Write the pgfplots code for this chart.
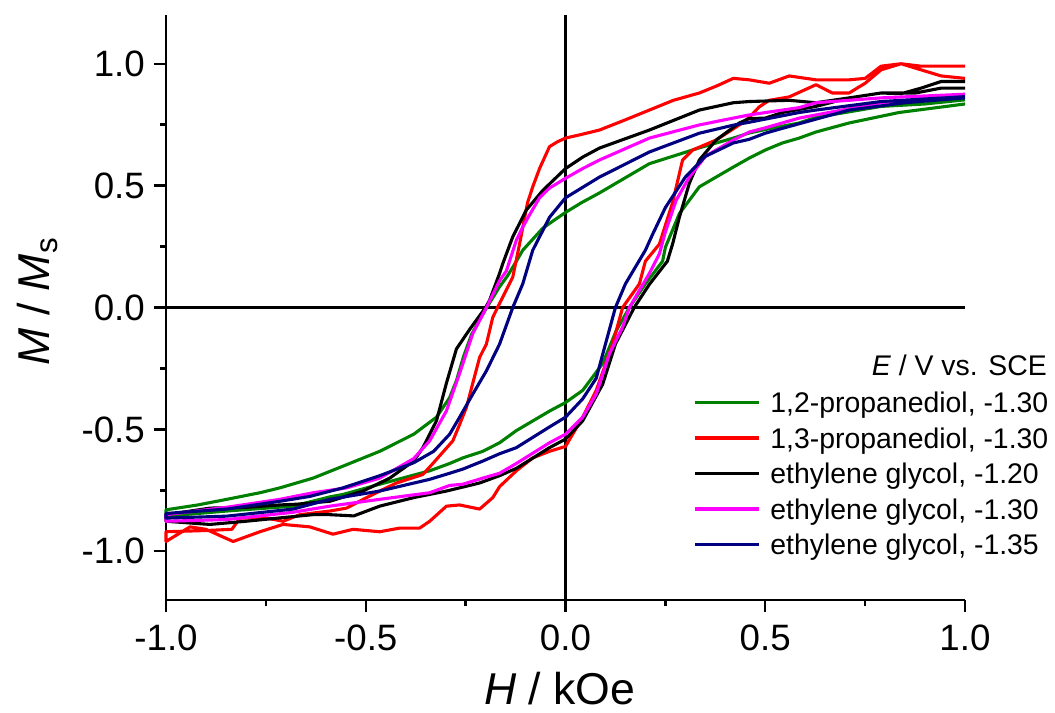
\documentclass[border=0pt]{standalone}
\usepackage{fontspec}
\setmainfont{Liberation Sans}
\usepackage{pgfplots}
\pgfplotsset{compat=1.18}
\definecolor{cgreen}{RGB}{0,128,0}
\definecolor{cred}{RGB}{255,0,0}
\definecolor{cmag}{RGB}{255,0,255}
\definecolor{cblue}{RGB}{0,0,128}
\begin{document}
\begin{tikzpicture}
\path[use as bounding box] (-166bp,-113bp) rectangle (889bp,600bp);
\begin{axis}[
  at={(0,0)}, anchor=south west,
  width=799bp, height=585bp, scale only axis,
  xmin=-1, xmax=1, ymin=-1.2, ymax=1.2,
  axis x line*=bottom, axis y line*=left,
  axis line style={line width=2.8bp},
  tick align=outside,
  major tick length=12bp, minor tick length=6bp,
  every tick/.style={black, line width=2.4bp},
  minor tick num=1,
  xtick={-1,-0.5,0,0.5,1}, xticklabels={-1.0,-0.5,0.0,0.5,1.0},
  ytick={-1,-0.5,0,0.5,1}, yticklabels={-1.0,-0.5,0.0,0.5,1.0},
  /pgf/number format/assume math mode=true,
  ticklabel style={font=\fontsize{36.7bp}{40bp}\selectfont},
  yticklabel style={inner sep=0pt, xshift=-9bp},
  xticklabel style={inner sep=0pt, yshift=-13bp},
  xlabel={\textit{H} / kOe},
  ylabel={\textit{M} / \textit{M}\textsubscript{s}},
  label style={font=\fontsize{44.6bp}{48bp}\selectfont},
  xlabel style={at={(axis description cs:0.493,0)}, anchor=base, yshift=-104bp, inner sep=0pt},
  ylabel style={at={(axis description cs:-0.1464,0.510)}, anchor=base, rotate=0, inner sep=0pt},
  clip=false,
  legend cell align=left,
  legend style={at={(axis cs:0.32,-0.3169)}, anchor=north west, draw=none, fill=none,
    inner sep=0pt, outer sep=0pt, row sep=0pt,
    nodes={inner sep=0pt, outer sep=0pt, text height=28bp, text depth=7.5bp,
      font=\fontsize{28.4bp}{32bp}\selectfont}},
  legend image code/.code={\draw[#1] (0bp,0bp) -- (64bp,0bp); \path (74bp,0bp);},
  every axis plot/.append style={line width=3.1bp, line join=round},
]
\draw[black, line width=2.6bp] (axis cs:0,-1.2) -- (axis cs:0,1.2);
\draw[black, line width=2.6bp] (axis cs:-1,0) -- (axis cs:1,0);

\addplot[cgreen] coordinates {
(1.0,0.852) (0.90,0.835) (0.79,0.825) (0.70,0.80) (0.627,0.78) (0.585,0.757) (0.50,0.73) (0.46,0.716) (0.42,0.695) (0.335,0.655) (0.21,0.59) (0.085,0.47) (0.04,0.43) (0,0.39) (-0.04,0.345) (-0.057,0.325) (-0.082,0.28) (-0.107,0.235) (-0.123,0.19) (-0.145,0.13) (-0.165,0.085) (-0.197,0) (-0.215,-0.05) (-0.235,-0.11) (-0.255,-0.2) (-0.273,-0.30) (-0.29,-0.37) (-0.323,-0.45) (-0.38,-0.52) (-0.465,-0.59) (-0.548,-0.645) (-0.632,-0.70) (-0.715,-0.74) (-0.765,-0.76) (-0.848,-0.787) (-0.92,-0.81) (-1.0,-0.83)
(-1.0,-0.856) (-0.848,-0.835) (-0.682,-0.815) (-0.59,-0.777) (-0.557,-0.767) (-0.465,-0.725) (-0.34,-0.67) (-0.29,-0.64) (-0.257,-0.617) (-0.207,-0.59) (-0.165,-0.555) (-0.123,-0.505) (-0.04,-0.425) (0,-0.39) (0.043,-0.34) (0.093,-0.23) (0.127,-0.095) (0.16,0) (0.2,0.097) (0.243,0.19) (0.25,0.247) (0.285,0.385) (0.335,0.495) (0.42,0.576) (0.46,0.613) (0.50,0.646) (0.543,0.675) (0.585,0.695) (0.627,0.72) (0.71,0.757) (0.835,0.80) (1.0,0.835)
};
\addlegendentry{1,2-propanediol, -1.30}

\addplot[cred] coordinates {
(1.0,0.94) (0.94,0.95) (0.89,0.975) (0.84,1.0) (0.79,0.99) (0.75,0.94) (0.71,0.934) (0.627,0.934) (0.56,0.95) (0.51,0.92) (0.46,0.934) (0.42,0.94) (0.38,0.91) (0.335,0.88) (0.27,0.85) (0.21,0.81) (0.15,0.77) (0.085,0.728) (0.04,0.71) (0,0.695) (-0.02,0.68) (-0.04,0.66) (-0.065,0.57) (-0.082,0.495) (-0.095,0.43) (-0.115,0.26) (-0.132,0.125) (-0.17,0) (-0.182,-0.04) (-0.198,-0.15) (-0.215,-0.205) (-0.232,-0.31) (-0.248,-0.41) (-0.265,-0.48) (-0.282,-0.547) (-0.332,-0.64) (-0.357,-0.685) (-0.423,-0.72) (-0.465,-0.753) (-0.498,-0.78) (-0.548,-0.823) (-0.59,-0.835) (-0.665,-0.85) (-0.707,-0.877) (-0.748,-0.864) (-0.815,-0.864) (-0.835,-0.91) (-0.9,-0.915) (-1.0,-0.92)
(-1.0,-0.96) (-0.94,-0.90) (-0.90,-0.91) (-0.832,-0.96) (-0.765,-0.92) (-0.707,-0.89) (-0.64,-0.90) (-0.582,-0.93) (-0.532,-0.91) (-0.465,-0.92) (-0.415,-0.905) (-0.365,-0.905) (-0.34,-0.877) (-0.298,-0.815) (-0.265,-0.81) (-0.215,-0.827) (-0.182,-0.78) (-0.165,-0.735) (-0.123,-0.67) (-0.082,-0.617) (-0.04,-0.59) (0,-0.57) (0.043,-0.45) (0.077,-0.34) (0.118,-0.15) (0.143,0) (0.185,0.097) (0.2,0.19) (0.235,0.26) (0.268,0.43) (0.293,0.605) (0.318,0.646) (0.377,0.687) (0.435,0.749) (0.46,0.78) (0.485,0.823) (0.51,0.85) (0.56,0.864) (0.627,0.914) (0.668,0.88) (0.71,0.88) (0.75,0.92) (0.79,0.975) (0.84,1.0) (0.89,0.99) (0.94,0.99) (1.0,0.99)
};
\addlegendentry{1,3-propanediol, -1.30}

\addplot[black] coordinates {
(1.0,0.927) (0.94,0.927) (0.89,0.90) (0.84,0.877) (0.79,0.88) (0.71,0.86) (0.627,0.84) (0.56,0.85) (0.46,0.845) (0.42,0.84) (0.335,0.81) (0.21,0.728) (0.085,0.654) (0.043,0.617) (0,0.57) (-0.057,0.48) (-0.098,0.40) (-0.132,0.29) (-0.157,0.18) (-0.165,0.14) (-0.19,0.03) (-0.2,0) (-0.24,-0.09) (-0.273,-0.17) (-0.298,-0.31) (-0.323,-0.465) (-0.357,-0.575) (-0.38,-0.63) (-0.44,-0.70) (-0.507,-0.753) (-0.59,-0.795) (-0.673,-0.807) (-0.715,-0.81) (-0.80,-0.82) (-0.89,-0.823) (-1.0,-0.85)
(-1.0,-0.877) (-0.89,-0.89) (-0.80,-0.877) (-0.72,-0.864) (-0.633,-0.85) (-0.59,-0.85) (-0.53,-0.855) (-0.465,-0.815) (-0.38,-0.78) (-0.298,-0.753) (-0.215,-0.72) (-0.165,-0.69) (-0.123,-0.66) (-0.04,-0.575) (0,-0.54) (0.043,-0.465) (0.093,-0.315) (0.125,-0.15) (0.172,0) (0.21,0.095) (0.255,0.19) (0.268,0.26) (0.285,0.37) (0.31,0.51) (0.335,0.605) (0.377,0.687) (0.435,0.757) (0.46,0.775) (0.50,0.777) (0.543,0.80) (0.627,0.825) (0.71,0.86) (0.79,0.88) (0.876,0.88) (0.94,0.90) (1.0,0.90)
};
\addlegendentry{ethylene glycol, -1.20}

\addplot[cmag] coordinates {
(1.0,0.875) (0.79,0.86) (0.627,0.84) (0.585,0.82) (0.46,0.79) (0.42,0.777) (0.335,0.749) (0.21,0.695) (0.085,0.605) (0.043,0.57) (0,0.53) (-0.04,0.49) (-0.065,0.45) (-0.09,0.38) (-0.107,0.33) (-0.123,0.276) (-0.148,0.15) (-0.165,0.11) (-0.198,0) (-0.232,-0.107) (-0.265,-0.27) (-0.298,-0.424) (-0.34,-0.547) (-0.38,-0.62) (-0.465,-0.70) (-0.548,-0.74) (-0.632,-0.76) (-0.715,-0.787) (-0.85,-0.82) (-1.0,-0.85)
(-1.0,-0.877) (-0.848,-0.87) (-0.682,-0.84) (-0.59,-0.815) (-0.465,-0.787) (-0.34,-0.76) (-0.29,-0.73) (-0.257,-0.725) (-0.207,-0.70) (-0.165,-0.68) (-0.123,-0.64) (-0.04,-0.555) (0,-0.52) (0.043,-0.45) (0.077,-0.355) (0.11,-0.19) (0.143,-0.08) (0.16,0) (0.21,0.14) (0.235,0.22) (0.25,0.31) (0.277,0.44) (0.31,0.535) (0.35,0.62) (0.42,0.687) (0.46,0.72) (0.50,0.737) (0.585,0.777) (0.627,0.79) (0.79,0.84) (1.0,0.87)
};
\addlegendentry{ethylene glycol, -1.30}

\addplot[cblue] coordinates {
(1.0,0.865) (0.79,0.845) (0.627,0.81) (0.585,0.80) (0.46,0.76) (0.42,0.748) (0.335,0.715) (0.21,0.638) (0.085,0.535) (0,0.45) (-0.04,0.37) (-0.082,0.235) (-0.107,0.097) (-0.132,0) (-0.165,-0.15) (-0.198,-0.26) (-0.232,-0.355) (-0.265,-0.45) (-0.29,-0.52) (-0.33,-0.59) (-0.38,-0.637) (-0.465,-0.69) (-0.557,-0.74) (-0.64,-0.775) (-0.715,-0.795) (-0.848,-0.827) (-1.0,-0.845)
(-1.0,-0.864) (-0.848,-0.856) (-0.682,-0.827) (-0.59,-0.787) (-0.465,-0.753) (-0.34,-0.705) (-0.29,-0.68) (-0.257,-0.663) (-0.207,-0.63) (-0.165,-0.60) (-0.123,-0.575) (-0.04,-0.49) (0,-0.45) (0.043,-0.375) (0.077,-0.29) (0.1,-0.15) (0.125,0) (0.15,0.097) (0.2,0.235) (0.218,0.30) (0.25,0.41) (0.30,0.535) (0.35,0.62) (0.42,0.675) (0.46,0.69) (0.50,0.715) (0.543,0.735) (0.71,0.81) (0.85,0.84) (1.0,0.86)
};
\addlegendentry{ethylene glycol, -1.35}

\node[anchor=base east, inner sep=0pt, font=\fontsize{28.4bp}{32bp}\selectfont] at (axis cs:1.205,-0.28) {\textit{E} / V vs. SCE};
\end{axis}
\end{tikzpicture}
\end{document}
